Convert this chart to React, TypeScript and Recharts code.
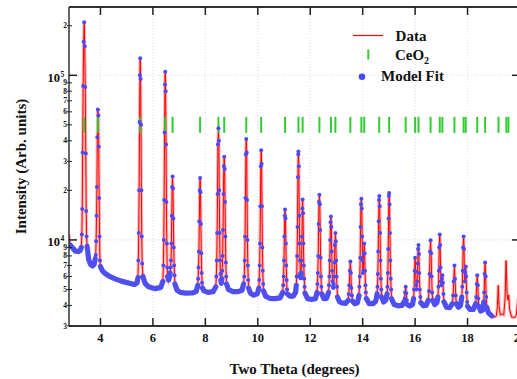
import React from 'react';
import { ComposedChart, Line, Scatter, XAxis, YAxis, ReferenceLine } from 'recharts';

const FONT = '"Liberation Serif", "Times New Roman", serif';
const PLOT_L = 69;
const PLOT_R = 520;
const PLOT_T = 7;
const PLOT_B = 326;

const xTicks = [4, 6, 8, 10, 12, 14, 16, 18, 20];
const xGrid = [4, 6, 8, 10, 12, 14, 16, 18];
const yTicks = [3000, 4000, 5000, 6000, 7000, 8000, 9000, 10000, 20000, 30000, 40000, 50000, 60000, 70000, 80000, 90000, 100000, 200000];
const yGrid = [10000, 100000];
const Y_MIN = 3000;
const Y_MAX = 260000;

// CeO2 reflection positions (2-theta, degrees)
const ceo2Positions = [3.38, 3.9, 5.515, 6.47, 6.75, 7.8, 8.5, 8.72, 9.56, 10.13, 11.04, 11.55, 11.71, 12.35, 12.79, 12.96, 13.53, 13.95, 14.06, 14.63, 15.01, 15.64, 16.0, 16.13, 16.59, 16.94, 17.04, 17.5, 17.85, 17.93, 18.37, 18.67, 19.18, 19.48, 19.56];
const ceo2Level = 50000;

// measured data before the fit range
const dataLead: [number, number][] = [[2.8, 10800], [2.82, 10000]];

// model fit: background stretches between reflections
const fitBackground: [number, number][][] = [
  [[2.84, 9300], [2.95, 8900], [3.05, 8550], [3.15, 8500], [3.22, 8600], [3.27, 9000]],
  [[3.49, 9150], [3.55, 7600], [3.62, 7100], [3.7, 6950], [3.76, 7100], [3.8, 7700]],
  [[4.0, 6900], [4.07, 6500], [4.18, 6250], [4.35, 6000], [4.56, 5800], [4.8, 5620], [5.07, 5480], [5.3, 5360], [5.4, 5500], [5.43, 5900]],
  [[5.62, 6000], [5.7, 5450], [5.83, 5200], [6.09, 5060], [6.3, 5150], [6.38, 5600]],
  [[6.56, 6000], [6.6, 5700], [6.64, 6000], [6.66, 6300]],
  [[6.84, 5400], [6.92, 4950], [7.05, 4800], [7.25, 4750], [7.5, 4760], [7.65, 4850], [7.71, 5300]],
  [[7.89, 5100], [7.95, 4900], [8.1, 4800], [8.3, 4850], [8.4, 5200]],
  [[8.59, 5700], [8.61, 5450], [8.63, 5800]],
  [[8.81, 5400], [8.88, 5000], [9.05, 4850], [9.25, 4850], [9.4, 4950], [9.46, 5400]],
  [[9.65, 5100], [9.72, 4750], [9.85, 4620], [9.98, 4700], [10.04, 5100]],
  [[10.22, 4900], [10.3, 4550], [10.45, 4420], [10.65, 4400], [10.85, 4450], [10.95, 4800]],
  [[11.13, 4700], [11.22, 4550], [11.35, 4550], [11.44, 4800], [11.47, 5300]],
  [[11.625, 6200], [11.64, 5900], [11.655, 6300]],
  [[11.8, 4750], [11.9, 4400], [12.05, 4350], [12.2, 4400], [12.26, 4800]],
  [[12.44, 4700], [12.52, 4400], [12.62, 4420], [12.7, 4800]],
  [[13.04, 4500], [13.12, 4200], [13.2, 4150], [13.35, 4120], [13.45, 4300]],
  [[13.61, 4250], [13.7, 4100], [13.8, 4150], [13.86, 4600]],
  [[14.14, 4400], [14.25, 4100], [14.4, 4100], [14.5, 4250], [14.55, 4700]],
  [[14.72, 4500], [14.8, 4200], [14.88, 4300], [14.93, 4700]],
  [[15.1, 4400], [15.2, 4050], [15.35, 3980], [15.5, 4000], [15.57, 4200]],
  [[15.7, 4050], [15.8, 3960], [15.9, 4050], [15.94, 4400]],
  [[16.22, 4150], [16.32, 3980], [16.42, 4000], [16.5, 4300]],
  [[16.67, 4300], [16.75, 4050], [16.83, 4150], [16.87, 4500]],
  [[17.1, 4200], [17.2, 3900], [17.32, 3880], [17.42, 4100]],
  [[17.57, 4100], [17.65, 3900], [17.73, 4000], [17.78, 4500]],
  [[18.0, 3950], [18.1, 3780], [18.22, 3780], [18.31, 4100]],
  [[18.43, 3950], [18.5, 3700], [18.58, 3750], [18.62, 4200]],
  [[18.73, 3900], [18.8, 3600], [18.88, 3500], [18.93, 3450]],
];

// model fit / data points on the reflections
const fitPeaks: [number, number][][] = [
  [[3.29, 10800], [3.305, 15400], [3.32, 34000], [3.34, 86000], [3.36, 160000], [3.38, 210000], [3.4, 150000], [3.42, 85000], [3.44, 33500], [3.455, 15000], [3.47, 10500]],
  [[3.82, 8100], [3.835, 9800], [3.85, 14000], [3.865, 21000], [3.88, 42000], [3.9, 62000], [3.92, 57000], [3.935, 37000], [3.95, 18000], [3.965, 10500], [3.98, 7500]],
  [[5.445, 7500], [5.46, 11000], [5.475, 20000], [5.49, 52000], [5.505, 100000], [5.515, 127000], [5.53, 95000], [5.545, 50000], [5.56, 20000], [5.575, 10500], [5.59, 7200]],
  [[6.4, 7000], [6.415, 10000], [6.43, 17500], [6.445, 45000], [6.46, 88000], [6.47, 105000], [6.485, 80000], [6.5, 38000], [6.515, 17000], [6.53, 9500], [6.545, 6800]],
  [[6.675, 6800], [6.69, 7500], [6.705, 9500], [6.72, 14000], [6.735, 21000], [6.75, 24300], [6.765, 20500], [6.78, 13500], [6.795, 9000], [6.81, 7000], [6.825, 6100]],
  [[7.725, 5800], [7.74, 6800], [7.755, 8500], [7.77, 13000], [7.785, 20000], [7.8, 23800], [7.815, 19500], [7.83, 12500], [7.845, 8300], [7.86, 6300], [7.875, 5500]],
  [[8.42, 6000], [8.435, 7500], [8.45, 11000], [8.465, 19000], [8.48, 38000], [8.5, 47700], [8.515, 40000], [8.53, 20000], [8.545, 11000], [8.56, 7500], [8.575, 6200]],
  [[8.645, 6500], [8.66, 8000], [8.675, 11500], [8.69, 19000], [8.705, 28000], [8.72, 32000], [8.735, 27000], [8.75, 17000], [8.765, 10500], [8.78, 7300], [8.795, 6000]],
  [[9.485, 6000], [9.5, 7500], [9.515, 10500], [9.53, 18000], [9.545, 33000], [9.56, 41000], [9.575, 34000], [9.59, 17500], [9.605, 10000], [9.62, 7000], [9.635, 5700]],
  [[10.055, 5700], [10.07, 7000], [10.085, 9500], [10.1, 16000], [10.115, 28000], [10.13, 35000], [10.145, 29000], [10.16, 16000], [10.175, 9000], [10.19, 6500], [10.205, 5400]],
  [[10.97, 5300], [10.985, 6000], [11.0, 7500], [11.015, 10500], [11.03, 14000], [11.04, 15300], [11.055, 13500], [11.07, 9500], [11.085, 7000], [11.1, 5700], [11.115, 5000]],
  [[11.485, 6000], [11.5, 8000], [11.515, 12000], [11.53, 24000], [11.545, 33000], [11.55, 34400], [11.565, 28000], [11.58, 14000], [11.595, 9500], [11.61, 7500]],
  [[11.67, 7500], [11.685, 10500], [11.7, 15500], [11.71, 17600], [11.725, 14500], [11.74, 9500], [11.755, 7000], [11.77, 5800], [11.785, 5200]],
  [[12.275, 5400], [12.29, 6300], [12.305, 8000], [12.32, 12500], [12.335, 17000], [12.35, 18800], [12.365, 16500], [12.38, 11500], [12.395, 7800], [12.41, 6000], [12.425, 5200]],
  [[12.715, 5300], [12.73, 6000], [12.745, 7500], [12.76, 10000], [12.775, 12800], [12.79, 13900], [12.805, 12000], [12.82, 8500], [12.835, 6500], [12.85, 5600], [12.865, 5200], [12.88, 5100]],
  [[12.895, 5400], [12.91, 6000], [12.925, 7300], [12.94, 9300], [12.96, 11000], [12.975, 9800], [12.99, 7500], [13.005, 6000], [13.02, 5200]],
  [[13.47, 4700], [13.49, 5300], [13.51, 6500], [13.53, 7400], [13.55, 6300], [13.57, 5100], [13.59, 4600]],
  [[13.875, 5200], [13.89, 6000], [13.905, 7800], [13.92, 12000], [13.935, 16500], [13.95, 17800], [13.965, 15500], [13.98, 10500], [13.995, 7500], [14.01, 6300], [14.025, 6500], [14.04, 8200], [14.06, 9500], [14.075, 8300], [14.09, 6500], [14.105, 5300], [14.12, 4800]],
  [[14.565, 5200], [14.58, 6200], [14.595, 8500], [14.61, 13000], [14.625, 17500], [14.635, 18500], [14.65, 16000], [14.665, 11000], [14.68, 7500], [14.695, 5800], [14.71, 5000]],
  [[14.945, 5200], [14.96, 6300], [14.975, 8800], [14.99, 13500], [15.0, 18500], [15.01, 19300], [15.025, 16500], [15.04, 11000], [15.055, 7500], [15.07, 5800], [15.085, 5000]],
  [[15.6, 4400], [15.62, 4800], [15.64, 5200], [15.66, 4750], [15.68, 4300]],
  [[15.96, 5000], [15.98, 6500], [16.0, 7800], [16.02, 6400], [16.04, 5300], [16.055, 5000], [16.08, 5600], [16.1, 7200], [16.115, 8800], [16.13, 9300], [16.145, 8200], [16.16, 6300], [16.18, 5000], [16.2, 4500]],
  [[16.53, 4900], [16.55, 6200], [16.57, 8500], [16.59, 9950], [16.61, 8300], [16.63, 6000], [16.65, 4800]],
  [[16.89, 5200], [16.905, 6500], [16.92, 9000], [16.94, 10800], [16.955, 9300], [16.97, 6800], [16.985, 5600], [17.0, 5300], [17.02, 5800], [17.04, 6100], [17.06, 5500], [17.08, 4700]],
  [[17.45, 4600], [17.47, 5600], [17.5, 7000], [17.52, 5800], [17.55, 4600]],
  [[17.8, 5200], [17.815, 6500], [17.83, 9000], [17.85, 10500], [17.865, 8800], [17.88, 6500], [17.895, 5600], [17.91, 6300], [17.93, 6900], [17.945, 6000], [17.965, 4800], [17.985, 4200]],
  [[18.33, 4500], [18.35, 5400], [18.37, 6100], [18.39, 5300], [18.41, 4400]],
  [[18.635, 4800], [18.65, 6200], [18.67, 7300], [18.69, 6000], [18.71, 4500]],
];

// measured data beyond the fit range
const dataTail: [number, number][] = [
  [19.02, 3400], [19.1, 3450], [19.14, 4000], [19.17, 5300], [19.2, 4000], [19.25, 3500], [19.32, 3550], [19.38, 3500],
  [19.43, 4400], [19.47, 7500], [19.51, 4600], [19.54, 4300], [19.57, 4640], [19.6, 3800], [19.68, 3400], [19.8, 3380],
  [19.86, 3500], [19.92, 4400],
];

type Pt = { x: number; y: number | null };
const toPt = ([x, y]: [number, number]): Pt => ({ x, y });

const dataSeries: Pt[] = [...dataLead, ...fitBackground.flat(), ...fitPeaks.flat(), ...dataTail]
  .map(toPt)
  .sort((a, b) => a.x - b.x);

const bandSeries: Pt[] = fitBackground.flatMap((seg, i) => [
  ...(i > 0 ? [{ x: seg[0][0] - 0.001, y: null }] : []),
  ...seg.map(toPt),
]);

const fitDotSeries: Pt[] = fitPeaks.flat().map(toPt);
const ceo2Series: Pt[] = ceo2Positions.map((x) => ({ x, y: ceo2Level }));

function YTick(props: any) {
  const { y, payload } = props;
  const v = payload.value as number;
  const lg = Math.log10(v);
  const isMajor = Math.abs(lg - Math.round(lg)) < 1e-6;
  if (isMajor) {
    const exp = Math.round(lg);
    return (
      <g>
        <line x1={PLOT_L} x2={PLOT_L + 8} y1={y} y2={y} stroke="#222" strokeWidth={1.5} />
        <line x1={PLOT_R - 8} x2={PLOT_R} y1={y} y2={y} stroke="#222" strokeWidth={1.5} />
        <text x={60} y={y + 6.5} textAnchor="end" fontFamily={FONT} fontWeight="bold" fontSize={12.5} fill="#111">10</text>
        <text x={60.5} y={y + 1.5} textAnchor="start" fontFamily={FONT} fontWeight="bold" fontSize={7.5} fill="#111">{exp}</text>
      </g>
    );
  }
  const digit = String(Math.round(v / Math.pow(10, Math.floor(lg + 1e-9))));
  return (
    <g>
      <line x1={PLOT_L - 2} x2={PLOT_L + 3} y1={y} y2={y} stroke="#222" strokeWidth={1} />
      <text x={67} y={y + 2.6} textAnchor="end" fontFamily={FONT} fontWeight="bold" fontSize={7.5} fill="#111">{digit}</text>
    </g>
  );
}

function XTick(props: any) {
  const { x, payload } = props;
  return (
    <g>
      <line x1={x} x2={x} y1={PLOT_B - 8} y2={PLOT_B} stroke="#222" strokeWidth={1.5} />
      <line x1={x} x2={x} y1={PLOT_T} y2={PLOT_T + 8} stroke="#222" strokeWidth={1.5} />
      <text x={x} y={342} textAnchor="middle" fontFamily={FONT} fontWeight="bold" fontSize={12.5} fill="#111">{payload.value}</text>
    </g>
  );
}

const CeoMark = (props: any) => {
  const { cx, cy } = props;
  return <line x1={cx} x2={cx} y1={cy - 8} y2={cy + 8} stroke="#33cc33" strokeWidth={2} />;
};

const FitDot = (props: any) => {
  const { cx, cy } = props;
  return <circle cx={cx} cy={cy} r={2} fill="#4a4afa" />;
};

const labelStyle = { fontFamily: FONT, fontWeight: 'bold', fontSize: 15, fill: '#111' };

export default function App() {
  return (
    <div style={{ position: 'absolute', left: 0, top: 0, width: 517, height: 379, overflow: 'hidden', background: '#fff' }}>
      <ComposedChart width={530} height={379} margin={{ top: PLOT_T, right: 10, bottom: 0, left: 0 }}>
        <XAxis
          dataKey="x"
          type="number"
          domain={[2.8, 20]}
          allowDataOverflow
          ticks={xTicks}
          interval={0}
          tick={<XTick />}
          tickLine={false}
          axisLine={{ stroke: '#333', strokeWidth: 2 }}
          height={53}
          label={{ value: 'Two Theta (degrees)', position: 'insideBottom', offset: 5, style: labelStyle }}
        />
        <YAxis
          dataKey="y"
          scale="log"
          domain={[Y_MIN, Y_MAX]}
          allowDataOverflow
          ticks={yTicks}
          interval={0}
          tick={<YTick />}
          tickLine={false}
          axisLine={{ stroke: '#333', strokeWidth: 1.5 }}
          width={69}
          label={{ value: 'Intensity (Arb. units)', angle: -90, position: 'insideLeft', offset: 21, style: { ...labelStyle, textAnchor: 'middle' } }}
        />
        {xGrid.map((v) => (
          <ReferenceLine key={'gx' + v} x={v} stroke="#d8d8f8" strokeDasharray="1 2" strokeWidth={1} />
        ))}
        {yGrid.map((v) => (
          <ReferenceLine key={'gy' + v} y={v} stroke="#d8d8f8" strokeDasharray="1 2" strokeWidth={1} />
        ))}
        <ReferenceLine y={Y_MAX} stroke="#333" strokeWidth={2} ifOverflow="visible" />
        <Scatter data={ceo2Series} dataKey="y" shape={<CeoMark />} isAnimationActive={false} />
        <Line data={dataSeries} dataKey="y" type="linear" stroke="#ff5a5a" strokeOpacity={0.45} strokeWidth={3.2} dot={false} activeDot={false} isAnimationActive={false} />
        <Line data={dataSeries} dataKey="y" type="linear" stroke="#ff0000" strokeWidth={1} dot={false} activeDot={false} isAnimationActive={false} />
        <Line data={bandSeries} dataKey="y" type="linear" stroke="#4f4ff0" strokeWidth={5.2} strokeLinecap="round" strokeLinejoin="round" connectNulls={false} dot={false} activeDot={false} isAnimationActive={false} />
        <Scatter data={fitDotSeries} dataKey="y" shape={<FitDot />} isAnimationActive={false} />
      </ComposedChart>
      <svg width={517} height={379} style={{ position: 'absolute', left: 0, top: 0, pointerEvents: 'none' }}>
        <line x1={353} x2={383} y1={35.5} y2={35.5} stroke="#ff0000" strokeWidth={1.2} />
        <text x={411} y={41} textAnchor="middle" fontFamily={FONT} fontWeight="bold" fontSize={15} fill="#111">Data</text>
        <line x1={368.3} x2={368.3} y1={49.5} y2={59.5} stroke="#33cc33" strokeWidth={2} />
        <text x={412} y={60} textAnchor="middle" fontFamily={FONT} fontWeight="bold" fontSize={15} fill="#111">
          CeO<tspan fontSize={10} dy={4}>2</tspan>
        </text>
        <circle cx={362} cy={76.7} r={3.3} fill="#4646fa" />
        <text x={412.5} y={81} textAnchor="middle" fontFamily={FONT} fontWeight="bold" fontSize={15} fill="#111">Model Fit</text>
      </svg>
    </div>
  );
}
